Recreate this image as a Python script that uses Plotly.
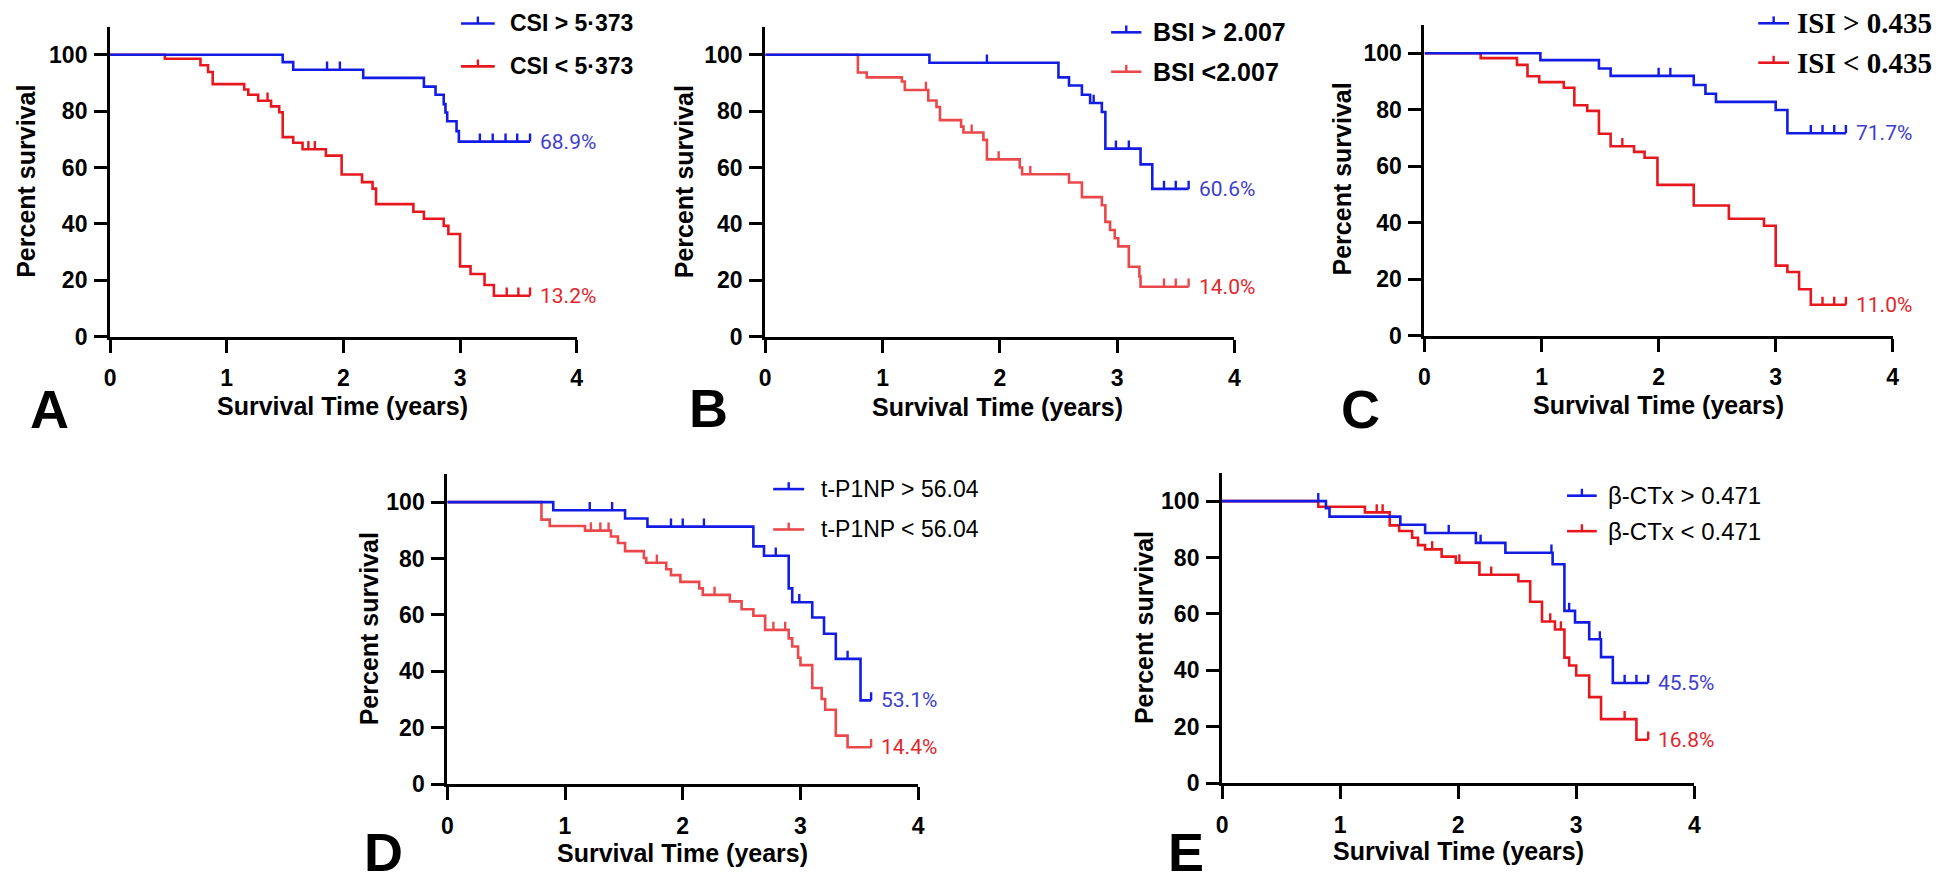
import plotly.graph_objects as go

W, H = 1943, 880

# ---------------- data ----------------
# Panel A : CSI
A_hi_t = [0, 1.48, 1.57, 2.17, 2.69, 2.79, 2.86, 2.875, 2.89, 2.97, 2.99, 3.60]
A_hi_s = [100, 97.4, 94.7, 91.8, 88.7, 85.8, 82.5, 79.5, 76.4, 72.9, 69.2, 69.2]
A_hi_c = [1.86, 1.97, 3.17, 3.28, 3.39, 3.49, 3.60]
A_lo_t = [0, 0.47, 0.775, 0.84, 0.88, 1.15, 1.185, 1.27, 1.38, 1.45, 1.48, 1.57, 1.65,
          1.85, 1.985, 2.16, 2.25, 2.28, 2.60, 2.69, 2.86, 2.90, 3.00, 3.09, 3.21, 3.29, 3.60]
A_lo_s = [100, 98.6, 96.3, 93.9, 89.6, 87.7, 85.8, 83.7, 81.7, 79.6, 70.8, 68.8, 66.5,
          64.2, 57.5, 54.8, 52.5, 47.0, 44.3, 41.8, 39.3, 36.4, 24.9, 22.2, 18.3, 14.5, 14.5]
A_lo_c = [1.35, 1.70, 1.755, 3.40, 3.50, 3.60]

# Panel B : BSI
B_hi_t = [0, 1.40, 2.50, 2.59, 2.70, 2.77, 2.87, 2.90, 3.20, 3.30, 3.61]
B_hi_s = [100, 97.2, 92.0, 89.1, 85.8, 82.9, 79.7, 66.7, 61.1, 52.4, 52.4]
B_hi_c = [1.89, 2.80, 2.99, 3.10, 3.40, 3.50, 3.61]
B_lo_t = [0, 0.79, 0.865, 1.165, 1.19, 1.39, 1.46, 1.49, 1.67, 1.69, 1.86, 1.89, 2.17,
          2.19, 2.59, 2.70, 2.87, 2.90, 2.94, 2.98, 3.01, 3.10, 3.19, 3.20, 3.61]
B_lo_s = [100, 93.7, 92.0, 90.5, 87.5, 83.8, 81.5, 76.8, 74.5, 72.4, 69.8, 62.9, 60.0,
          57.6, 54.7, 49.5, 46.6, 40.7, 37.8, 34.9, 32.0, 24.8, 21.3, 17.7, 17.7]
B_lo_c = [1.37, 1.76, 1.99, 2.26, 3.40, 3.50, 3.61]

# Panel C : ISI
C_hi_t = [0, 0.99, 1.49, 1.59, 2.30, 2.40, 2.49, 3.00, 3.10, 3.60]
C_hi_s = [100, 97.6, 94.6, 92.0, 88.8, 85.7, 82.8, 79.9, 71.7, 71.7]
C_hi_c = [2.00, 2.10, 3.30, 3.40, 3.50, 3.60]
C_lo_t = [0, 0.48, 0.79, 0.88, 0.98, 1.19, 1.28, 1.39, 1.49, 1.59, 1.79, 1.88, 1.99,
          2.30, 2.60, 2.90, 3.00, 3.10, 3.20, 3.30, 3.60]
C_lo_s = [100, 98.3, 95.9, 91.9, 89.8, 87.8, 81.6, 79.6, 71.5, 67.1, 65.1, 63.0, 53.4,
          46.1, 41.4, 38.9, 24.8, 22.5, 16.4, 10.9, 10.9]
C_lo_c = [1.69, 3.40, 3.50, 3.60]

# Panel D : t-P1NP
D_hi_t = [0, 0.90, 1.51, 1.70, 2.60, 2.69, 2.90, 2.93, 3.10, 3.20, 3.30, 3.51, 3.60]
D_hi_s = [100, 97.1, 94.2, 91.3, 84.3, 81.0, 69.4, 64.5, 59.1, 53.3, 44.4, 29.7, 29.7]
D_hi_c = [1.21, 1.40, 1.90, 2.00, 2.18, 2.79, 2.99, 3.40, 3.60]
D_lo_t = [0, 0.80, 0.87, 1.17, 1.39, 1.45, 1.51, 1.67, 1.69, 1.86, 1.90, 1.98, 2.14, 2.17,
          2.40, 2.50, 2.60, 2.70, 2.90, 2.93, 2.98, 3.00, 3.10, 3.18, 3.21, 3.30, 3.40, 3.60]
D_lo_s = [100, 93.8, 91.5, 89.9, 87.8, 85.5, 82.6, 80.2, 78.5, 76.2, 74.1, 71.7, 69.4, 67.1,
          64.8, 62.0, 59.7, 54.7, 51.7, 48.8, 44.8, 42.2, 34.1, 30.2, 26.4, 17.2, 13.1, 13.1]
D_lo_c = [1.22, 1.30, 1.37, 1.78, 2.27, 2.77, 2.87, 3.60]

# Panel E : beta-CTx
E_hi_t = [0, 0.88, 0.91, 1.51, 1.72, 2.15, 2.40, 2.80, 2.90, 2.99, 3.11, 3.21, 3.31, 3.61]
E_hi_s = [100, 97.5, 94.5, 91.6, 88.7, 85.2, 81.7, 77.6, 61.1, 57.0, 51.0, 44.7, 35.5, 35.5]
E_hi_c = [0.815, 1.92, 2.19, 2.79, 2.94, 3.20, 3.41, 3.51, 3.61]
E_lo_t = [0, 0.815, 1.21, 1.42, 1.50, 1.61, 1.66, 1.72, 1.86, 1.98, 2.18, 2.51, 2.61, 2.71,
          2.82, 2.90, 2.94, 3.00, 3.11, 3.21, 3.51, 3.61]
E_lo_s = [100, 98.0, 96.0, 91.4, 89.4, 87.0, 84.4, 82.9, 80.3, 78.2, 73.9, 71.6, 64.3, 57.3,
          54.5, 44.5, 41.7, 38.2, 30.5, 22.7, 15.4, 15.4]
E_lo_c = [1.31, 1.36, 1.78, 2.01, 2.28, 2.78, 2.87, 3.41, 3.61]

panel_letters = ["A", "B", "C", "D", "E"]
legend_hi = ["CSI > 5·373", "BSI > 2.007", "ISI > 0.435", "t-P1NP > 56.04", "β-CTx > 0.471"]
legend_lo = ["CSI < 5·373", "BSI <2.007", "ISI < 0.435", "t-P1NP < 56.04", "β-CTx < 0.471"]
pct_hi = ["68.9%", "60.6%", "71.7%", "53.1%", "45.5%"]
pct_lo = ["13.2%", "14.0%", "11.0%", "14.4%", "16.8%"]
x_ticks = [0, 1, 2, 3, 4]
y_ticks = [0, 20, 40, 60, 80, 100]
x_title = "Survival Time (years)"
y_title = "Percent survival"

series = [
    (A_hi_t, A_hi_s, A_hi_c, A_lo_t, A_lo_s, A_lo_c),
    (B_hi_t, B_hi_s, B_hi_c, B_lo_t, B_lo_s, B_lo_c),
    (C_hi_t, C_hi_s, C_hi_c, C_lo_t, C_lo_s, C_lo_c),
    (D_hi_t, D_hi_s, D_hi_c, D_lo_t, D_lo_s, D_lo_c),
    (E_hi_t, E_hi_s, E_hi_c, E_lo_t, E_lo_s, E_lo_c),
]

# ---------------- layout geometry (pixels) ----------------
# x0px, x4px, y(0)px, y(100)px
geom = [
    (96.7, 566.5, 333.5, 47.5),
    (756.3, 1228.6, 333.5, 47.5),
    (1420.0, 1891.4, 332.5, 46.0),
    (436.2, 910.3, 787.8, 501.5),
    (1216.2, 1691.6, 786.8, 500.5),
]
ytitle_pos = [(12.5, 176), (674.7, 176.7), (1337, 174), (357, 630), (1137, 629)]
xtitle_pos = [(331, 404), (990, 405), (1656, 403), (673, 858), (1454, 856)]
letter_pos = [(36, 407), (699, 406), (1356, 407), (372, 857), (1180, 857)]
# legend: line x0, x1, row1 y, row2 y, text x
legend_geom = [
    (450, 484, 15.7, 59.3, 497),
    (1104.5, 1135, 24.7, 64.7, 1145),
    (1756, 1787, 15.5, 55.5, 1793),
    (764.3, 795.5, 488.3, 529.3, 810.3),
    (1563.5, 1593.4, 495, 531, 1602.3),
]
legend_font = [
    dict(family="Liberation Sans, Arial", size=23, weight="bold"),
    dict(family="Liberation Sans, Arial", size=25, weight="bold"),
    dict(family="Liberation Serif, Times New Roman", size=29, weight="bold"),
    dict(family="Liberation Sans, Arial", size=23),
    dict(family="Liberation Sans, Arial", size=24),
]

BLUE = "rgb(18,28,228)"
RED_DEEP = "rgb(230,24,30)"
RED_SOFT = "rgb(234,72,74)"
red_line = [RED_DEEP, RED_SOFT, RED_DEEP, RED_SOFT, RED_DEEP]
BLUE_TXT = "rgb(62,62,205)"
RED_TXT = "rgb(226,38,44)"

SANS = "Liberation Sans, Arial, sans-serif"
PCT_FONT = "Liberation Sans Narrow, Roboto, sans-serif"
CENSOR_LEN = 2.9   # data units


def px_x(p):
    return p / W


def px_y(p):
    return 1 - p / H


def step_value(ts, ss, t):
    v = ss[0]
    for ti, si in zip(ts, ss):
        if ti <= t + 1e-9:
            v = si
    return v


fig = go.Figure()
annotations = []
shapes = []
layout_axes = {}

for i in range(5):
    n = "" if i == 0 else str(i + 1)
    xa, ya = "x" + n, "y" + n
    x0p, x4p, y0p, y100p = geom[i]
    y110p = y0p - 1.1 * (y0p - y100p)
    hi_t, hi_s, hi_c, lo_t, lo_s, lo_c = series[i]

    for (ts, ss, cs, col) in [(lo_t, lo_s, lo_c, red_line[i]), (hi_t, hi_s, hi_c, BLUE)]:
        fig.add_trace(go.Scatter(
            x=ts, y=ss, mode="lines", line=dict(shape="hv", color=col, width=2.6),
            xaxis=xa, yaxis=ya, showlegend=False, hoverinfo="skip"))
        cy = [step_value(ts, ss, c) for c in cs]
        fig.add_trace(go.Scatter(
            x=cs, y=cy, mode="markers", marker=dict(size=1, color="rgba(0,0,0,0)"),
            error_y=dict(type="data", symmetric=False, array=[CENSOR_LEN] * len(cs),
                         arrayminus=[0] * len(cs), color=col, thickness=2.4, width=0),
            xaxis=xa, yaxis=ya, showlegend=False, hoverinfo="skip"))

    axis_common = dict(showline=True, linewidth=3, linecolor="black", ticks="outside",
                       ticklen=13, tickwidth=3, tickcolor="black", showgrid=False,
                       zeroline=False, fixedrange=True,
                       tickfont=dict(family=SANS, size=23, color="black", weight="bold"))
    layout_axes["xaxis" + n] = dict(axis_common, domain=[px_x(x0p), px_x(x4p)], range=[0, 4],
                                    tickvals=x_ticks, anchor=ya, ticklabelstandoff=6)
    layout_axes["yaxis" + n] = dict(axis_common, domain=[px_y(y0p), px_y(y110p)], range=[0, 110],
                                    tickvals=y_ticks, anchor=xa, ticklabelstandoff=2)

    # axis titles
    tx, ty = ytitle_pos[i]
    annotations.append(dict(x=px_x(tx), y=px_y(ty), xref="paper", yref="paper", text=y_title,
                            textangle=-90, showarrow=False, xanchor="center", yanchor="middle",
                            font=dict(family=SANS, size=25, color="black", weight="bold")))
    tx, ty = xtitle_pos[i]
    annotations.append(dict(x=px_x(tx), y=px_y(ty), xref="paper", yref="paper", text=x_title,
                            showarrow=False, xanchor="center", yanchor="middle",
                            font=dict(family=SANS, size=25, color="black", weight="bold")))
    lx, ly = letter_pos[i]
    annotations.append(dict(x=px_x(lx), y=px_y(ly), xref="paper", yref="paper",
                            text=panel_letters[i], showarrow=False, xanchor="center",
                            yanchor="middle",
                            font=dict(family=SANS, size=54, color="black", weight="bold")))

    # percent labels at curve ends
    for ts, ss, txt, col in [(hi_t, hi_s, pct_hi[i], BLUE_TXT), (lo_t, lo_s, pct_lo[i], RED_TXT)]:
        annotations.append(dict(x=ts[-1], y=ss[-1], xref=xa, yref=ya, text=txt, showarrow=False,
                                xanchor="left", yanchor="middle", xshift=8,
                                font=dict(family=PCT_FONT, size=21, color=col)))

    # legend
    l0, l1, r1, r2, tx = legend_geom[i]
    for ry, col, txt in [(r1, BLUE, legend_hi[i]), (r2, red_line[i], legend_lo[i])]:
        shapes.append(dict(type="line", xref="paper", yref="paper", x0=px_x(l0), x1=px_x(l1),
                           y0=px_y(ry), y1=px_y(ry), line=dict(color=col, width=2.6)))
        mid = (l0 + l1) / 2
        shapes.append(dict(type="line", xref="paper", yref="paper", x0=px_x(mid), x1=px_x(mid),
                           y0=px_y(ry), y1=px_y(ry - 7), line=dict(color=col, width=2.4)))
        annotations.append(dict(x=px_x(tx), y=px_y(ry), xref="paper", yref="paper", text=txt,
                                showarrow=False, xanchor="left", yanchor="middle",
                                font=dict(legend_font[i], color="black")))

fig.update_layout(
    width=W, height=H, margin=dict(l=0, r=0, t=0, b=0),
    paper_bgcolor="white", plot_bgcolor="white", showlegend=False,
    annotations=annotations, shapes=shapes, **layout_axes)

fig.write_html("out.html", config={"displayModeBar": False})
